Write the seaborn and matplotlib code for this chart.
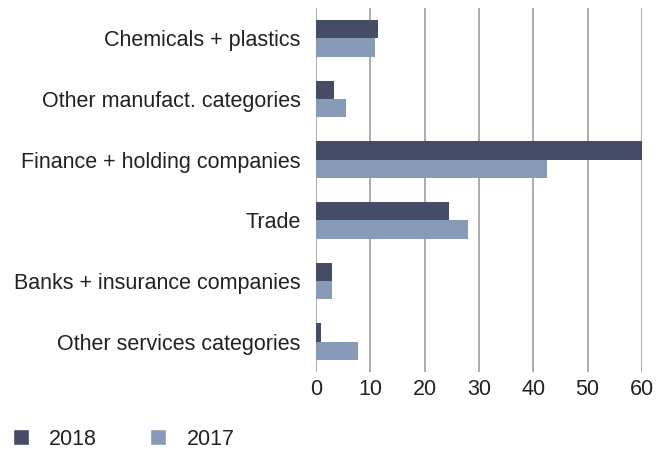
import pandas as pd
import seaborn as sns
import matplotlib.pyplot as plt
from matplotlib.patches import Patch

# Dados do gráfico
categorias = ['Chemicals + plastics', 'Other manufact. categories',
              'Finance + holding companies', 'Trade',
              'Banks + insurance companies', 'Other services categories']
valores_2018 = [11.4, 3.3, 60.2, 24.4, 3.0, 0.9]
valores_2017 = [10.9, 5.5, 42.6, 28.0, 3.0, 7.8]
anos = ['2018', '2017']
cores = {'2018': '#454d66', '2017': '#879bb8'}
ticks_x = [0, 10, 20, 30, 40, 50, 60]

df = pd.DataFrame({
    'categoria': categorias * 2,
    'valor': valores_2018 + valores_2017,
    'ano': ['2018'] * len(categorias) + ['2017'] * len(categorias),
})

sns.set_style('white')
plt.rcParams['font.family'] = ['Liberation Sans', 'DejaVu Sans']
plt.rcParams['text.color'] = '#222222'

fig = plt.figure(figsize=(6.67, 4.5), dpi=100)
ax = fig.add_axes([0.4738, 0.1733, 0.4887, 0.8089])

sns.barplot(data=df, x='valor', y='categoria', hue='ano', hue_order=anos,
            order=categorias, palette=cores, orient='h', width=0.6,
            saturation=1, linewidth=0, legend=False, ax=ax)

ax.set_xlim(0, 60)
ax.set_xticks(ticks_x)
ax.set_xlabel('')
ax.set_ylabel('')
ax.grid(axis='x', color='#a6a6a6', linewidth=1.3)
ax.set_axisbelow(True)
for s in ax.spines.values():
    s.set_visible(False)
ax.tick_params(axis='both', length=0, labelsize=15.5, labelcolor='#222222')
ax.tick_params(axis='y', pad=11)
ax.tick_params(axis='x', pad=5)

handles = [Patch(facecolor=cores[a], label=a) for a in anos]
fig.legend(handles=handles, loc='lower left', bbox_to_anchor=(-0.01, -0.042),
           ncol=2, frameon=False, fontsize=15.5, handlelength=0.75,
           handleheight=0.75, handletextpad=0.95, columnspacing=2.45)

plt.savefig('out.png', dpi=100)
plt.close()
